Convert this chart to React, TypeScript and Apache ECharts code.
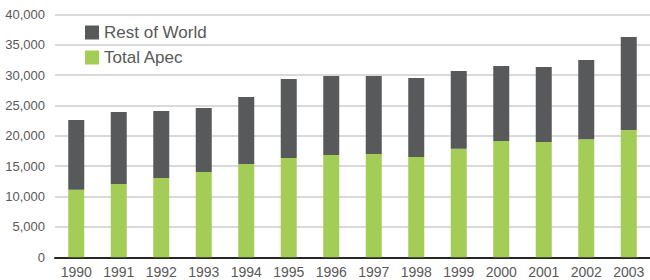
import React, { useEffect, useRef } from "react";
import * as echarts from "echarts";

const years = ["1990", "1991", "1992", "1993", "1994", "1995", "1996", "1997", "1998", "1999", "2000", "2001", "2002", "2003"];
const totalApec = [11100, 12050, 13050, 14050, 15350, 16350, 16850, 17000, 16500, 17850, 19150, 19000, 19450, 20950];
const restOfWorld = [11500, 11850, 11020, 10520, 11040, 13000, 12990, 12840, 13010, 12820, 12340, 12320, 13030, 15310];

const textColor = "#595959";
const font = "'Liberation Sans', Arial, sans-serif";

export default function App() {
  const ref = useRef<HTMLDivElement>(null);
  useEffect(() => {
    if (!ref.current) return;
    const chart = echarts.init(ref.current, null, { renderer: "svg" });
    chart.setOption({
      animation: false,
      textStyle: { fontFamily: font },
      grid: { left: 55, top: 14.3, width: 599, height: 243 },
      legend: {
        data: ["Rest of World", "Total Apec"],
        orient: "vertical",
        left: 85,
        top: 24,
        padding: 0,
        itemWidth: 14,
        itemHeight: 14,
        itemGap: 8,
        itemTextGap: 9,
        icon: "rect",
        textStyle: { fontSize: 17, color: textColor, fontFamily: font },
      },
      xAxis: {
        type: "category",
        data: years,
        boundaryGap: true,
        axisLine: { lineStyle: { color: "#262626", width: 2 } },
        axisTick: { inside: true, length: 6, lineStyle: { color: "#262626", width: 1.5 } },
        axisLabel: { color: textColor, fontSize: 14, margin: 8, fontFamily: font },
      },
      yAxis: {
        type: "value",
        min: 0,
        max: 40000,
        interval: 5000,
        axisLine: { show: false },
        axisTick: { show: false },
        axisLabel: {
          color: textColor,
          fontSize: 13,
          margin: 10,
          fontFamily: font,
          formatter: (v: number) => v.toLocaleString("en-US"),
        },
        splitLine: { lineStyle: { color: "#d9d9d9", width: 2 } },
      },
      series: [
        {
          name: "Total Apec",
          type: "bar",
          stack: "total",
          barWidth: 16,
          data: totalApec,
          itemStyle: { color: "#a4cd57" },
        },
        {
          name: "Rest of World",
          type: "bar",
          stack: "total",
          barWidth: 16,
          data: restOfWorld,
          itemStyle: { color: "#58595b" },
        },
      ],
    });
    return () => chart.dispose();
  }, []);
  return (
    <div
      ref={ref}
      style={{ position: "fixed", left: 0, top: 0, width: 650, height: 280, background: "#fff" }}
    />
  );
}
